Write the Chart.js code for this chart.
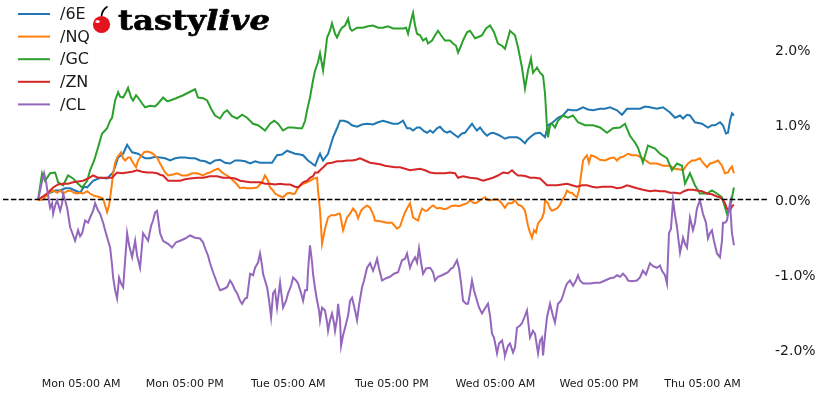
<!DOCTYPE html>
<html>
<head>
<meta charset="utf-8">
<script src="https://cdn.jsdelivr.net/npm/chart.js@4"></script>
<style>
  html, body { margin: 0; padding: 0; background: #fff; }
  #wrap { position: relative; width: 821px; height: 397px; overflow: hidden; }
  #logo { position: absolute; left: 0; top: 0; }
</style>
</head>
<body>
<div id="wrap">
  <canvas id="c" width="821" height="397"></canvas>
  <svg id="logo" width="300" height="45" viewBox="0 0 300 45">
    <path d="M101.5 17 C101.5 12 103.5 9 107.5 6.5" stroke="#000" stroke-width="1.6" fill="none"/>
    <circle cx="101.5" cy="24.5" r="8.6" fill="#e3141d"/>
    <ellipse cx="97.6" cy="21.4" rx="2.2" ry="1.5" fill="#fff" opacity="0.9"/>
    <text x="118" y="30" font-family="DejaVu Serif, serif" font-weight="bold" font-size="27" fill="#000" stroke="#000" stroke-width="0.6" textLength="152" lengthAdjust="spacingAndGlyphs">tasty<tspan font-style="italic">live</tspan></text>
  </svg>
</div>
<script>
// X axis: hours relative to Mon 05:00 AM
const tickHours = [0, 12, 24, 36, 48, 60, 72];
const tickLabels = ["Mon 05:00 AM", "Mon 05:00 PM", "Tue 05:00 AM", "Tue 05:00 PM", "Wed 05:00 AM", "Wed 05:00 PM", "Thu 05:00 AM"];
const yTicks = [-2, -1, 0, 1, 2];

const seriesNames = ["/6E", "/NQ", "/GC", "/ZN", "/CL"];
const seriesColors = ["#1f77b4", "#ff7f0e", "#2ca02c", "#d62728", "#9467bd"];

const e6Hours = [-4.98,-4.29,-3.59,-3.01,-2.43,-1.85,-1.27,-0.70,-0.12,0.35,0.70,1.39,2.20,3.01,3.71,4.29,4.87,5.33,5.91,6.60,7.41,7.99,8.57,9.15,9.73,10.31,10.89,11.47,12.05,12.63,13.20,13.78,14.36,14.94,15.52,16.10,16.68,17.26,17.84,18.42,19.00,19.58,20.16,20.73,21.43,22.12,22.70,23.28,23.86,24.33,24.79,25.37,25.72,26.29,26.76,27.11,27.45,27.68,28.03,28.61,29.19,29.65,30.00,30.46,30.93,31.39,31.97,32.55,33.13,33.82,34.40,34.98,35.56,36.14,36.72,37.30,37.76,38.11,38.46,38.92,39.27,39.73,40.08,40.43,40.77,41.24,41.58,42.05,42.39,42.74,43.09,43.67,44.13,44.48,44.94,45.29,45.64,45.87,46.22,46.68,47.03,47.38,47.72,48.19,48.53,49.11,49.57,50.04,50.50,50.85,51.43,51.66,52.01,52.59,53.17,53.75,54.09,54.67,55.25,55.83,56.41,56.87,57.45,58.15,58.73,59.31,60.12,60.70,61.28,62.09,62.67,63.25,63.94,64.75,65.33,65.91,66.72,67.42,68.23,68.81,69.39,69.74,70.20,70.54,71.12,71.93,72.63,73.09,73.44,74.02,74.37,74.71,74.95,75.18,75.41,75.64];
const e6Values = [0.00,0.05,0.09,0.12,0.12,0.15,0.15,0.12,0.09,0.17,0.16,0.25,0.29,0.28,0.36,0.56,0.61,0.73,0.63,0.61,0.55,0.55,0.57,0.56,0.55,0.52,0.55,0.56,0.56,0.55,0.55,0.52,0.51,0.48,0.52,0.53,0.49,0.48,0.52,0.52,0.51,0.48,0.51,0.49,0.49,0.49,0.59,0.60,0.65,0.63,0.61,0.60,0.59,0.52,0.48,0.45,0.55,0.61,0.52,0.61,0.83,0.95,1.05,1.05,1.03,0.99,0.97,1.00,1.01,1.00,1.03,1.05,1.03,1.01,1.01,1.05,0.95,0.95,0.92,0.96,0.96,0.91,0.89,0.92,0.89,0.95,0.97,0.91,0.89,0.91,0.88,0.83,0.88,0.89,0.96,1.01,0.95,0.92,0.96,0.89,0.85,0.88,0.89,0.87,0.85,0.81,0.83,0.83,0.83,0.81,0.75,0.79,0.83,0.88,0.89,0.83,0.99,1.03,1.09,1.12,1.20,1.19,1.19,1.23,1.20,1.19,1.21,1.21,1.23,1.19,1.13,1.21,1.21,1.21,1.24,1.23,1.21,1.23,1.16,1.09,1.12,1.08,1.13,1.12,1.03,1.01,0.96,0.99,0.99,1.03,0.99,0.88,0.89,1.05,1.15,1.12];

const nqHours = [-4.98,-4.40,-3.82,-3.24,-2.78,-2.43,-2.08,-1.62,-1.27,-0.81,-0.46,-0.12,0.23,0.70,1.04,1.51,1.85,2.20,2.55,2.78,3.01,3.24,3.48,3.71,3.94,4.17,4.63,4.87,5.10,5.44,5.68,6.02,6.37,6.60,6.83,7.30,7.65,7.99,8.34,8.80,9.15,9.73,10.08,10.54,11.12,11.70,12.28,12.86,13.44,14.13,14.60,14.94,15.41,15.87,16.45,16.91,17.26,17.84,18.42,18.77,19.23,19.81,20.39,20.96,21.31,21.66,21.89,22.24,22.47,22.93,23.40,23.86,24.21,24.56,24.79,25.14,25.72,26.18,26.52,26.99,27.34,27.45,27.68,27.92,28.26,28.61,28.96,29.42,29.77,30.00,30.35,30.81,31.16,31.51,31.86,32.09,32.43,32.66,33.13,33.48,33.82,34.05,34.63,35.45,36.02,36.60,36.95,37.18,37.53,37.76,38.11,38.46,39.04,39.27,39.50,39.85,40.08,40.43,40.77,41.24,41.58,42.05,42.39,42.86,43.32,43.79,44.25,44.71,45.06,45.52,45.87,46.33,46.80,47.14,47.38,47.84,48.30,48.65,49.11,49.46,49.92,50.27,50.62,51.08,51.43,51.78,52.01,52.24,52.47,52.70,52.94,53.40,53.63,53.75,54.09,54.33,54.56,55.14,55.49,55.72,56.06,56.30,56.64,56.87,57.22,57.45,57.68,57.92,58.15,58.38,58.61,58.84,59.08,59.54,60.12,60.70,61.28,61.74,62.09,62.44,62.79,63.36,63.82,64.40,65.09,65.91,66.72,67.42,68.23,68.81,69.39,69.74,70.31,70.78,71.12,71.70,72.05,72.51,72.86,73.21,73.79,74.25,74.60,74.95,75.18,75.41,75.64];
const nqValues = [-0.01,0.00,0.08,0.12,0.09,0.12,0.08,0.11,0.12,0.09,0.08,0.09,0.08,0.11,0.08,0.05,0.04,0.03,0.01,-0.08,-0.17,-0.08,0.12,0.35,0.49,0.56,0.63,0.55,0.52,0.56,0.56,0.49,0.43,0.52,0.56,0.63,0.64,0.63,0.61,0.56,0.48,0.36,0.32,0.33,0.35,0.32,0.32,0.35,0.35,0.32,0.35,0.36,0.39,0.41,0.35,0.32,0.29,0.23,0.15,0.16,0.15,0.15,0.16,0.23,0.32,0.25,0.16,0.12,0.08,0.05,0.03,0.08,0.09,0.07,0.08,0.16,0.21,0.23,0.25,0.28,0.29,0.12,-0.15,-0.59,-0.39,-0.24,-0.21,-0.21,-0.19,-0.19,-0.41,-0.24,-0.19,-0.12,-0.17,-0.25,-0.15,-0.12,-0.08,-0.11,-0.19,-0.28,-0.29,-0.31,-0.31,-0.39,-0.36,-0.28,-0.17,-0.12,-0.05,-0.24,-0.28,-0.19,-0.12,-0.15,-0.15,-0.11,-0.08,-0.12,-0.11,-0.13,-0.12,-0.09,-0.08,-0.09,-0.07,-0.05,-0.01,-0.05,-0.04,0.00,0.03,-0.01,-0.01,0.00,0.00,-0.04,-0.11,-0.05,-0.05,-0.01,-0.07,-0.09,-0.15,-0.35,-0.44,-0.51,-0.41,-0.44,-0.32,-0.25,-0.17,-0.01,-0.05,-0.12,-0.15,-0.12,-0.07,-0.01,0.05,0.12,0.09,0.09,0.05,0.03,0.12,0.32,0.52,0.56,0.59,0.49,0.59,0.57,0.53,0.52,0.55,0.56,0.52,0.56,0.57,0.61,0.59,0.59,0.55,0.48,0.48,0.45,0.45,0.41,0.40,0.39,0.48,0.52,0.52,0.55,0.49,0.43,0.48,0.49,0.52,0.45,0.35,0.36,0.41,0.44,0.35];

const gcHours = [-4.98,-4.52,-4.17,-3.59,-3.01,-2.66,-2.08,-1.51,-0.93,-0.35,0.12,0.70,1.04,1.51,1.85,2.20,2.43,2.78,3.01,3.36,3.59,3.94,4.29,4.52,4.87,5.21,5.44,5.79,6.02,6.37,6.60,7.07,7.41,7.99,8.57,8.92,9.50,9.96,10.31,11.00,11.82,12.51,13.20,13.55,14.13,14.60,15.06,15.52,16.10,16.56,16.91,17.49,18.07,18.65,19.23,19.92,20.50,21.31,21.89,22.36,22.82,23.40,23.98,24.56,25.14,25.60,25.95,26.18,26.52,26.87,27.11,27.45,27.68,28.03,28.26,28.50,28.84,29.07,29.42,29.65,30.00,30.23,30.58,30.93,31.16,31.39,31.97,32.66,33.24,33.82,34.40,34.98,35.56,36.14,36.72,37.30,37.65,37.88,38.23,38.46,38.69,38.92,39.27,39.62,39.97,40.19,40.66,41.01,41.35,41.70,42.16,42.74,43.09,43.44,43.67,44.02,44.25,44.71,45.06,45.41,45.64,46.10,46.45,46.92,47.38,47.84,48.30,48.77,49.11,49.46,49.69,50.27,50.62,51.08,51.43,51.78,52.12,52.36,52.82,53.17,53.52,53.75,53.98,54.09,54.33,54.56,54.90,55.25,55.83,56.41,56.99,57.57,58.38,59.31,60.12,60.93,61.63,62.44,63.01,63.59,64.17,64.52,65.09,65.68,66.49,67.07,67.88,68.46,69.04,69.62,69.97,70.54,71.12,71.70,72.51,73.09,73.67,74.25,74.83,75.18,75.64];
const gcValues = [0.00,0.35,0.25,0.35,0.36,0.23,0.19,0.32,0.28,0.21,0.16,0.25,0.39,0.52,0.65,0.79,0.88,0.92,0.95,1.05,1.09,1.32,1.43,1.37,1.36,1.43,1.49,1.36,1.32,1.39,1.36,1.28,1.23,1.25,1.24,1.28,1.36,1.31,1.32,1.35,1.39,1.43,1.47,1.36,1.35,1.32,1.21,1.12,1.08,1.16,1.19,1.11,1.08,1.13,1.09,1.01,0.99,0.92,1.01,1.05,1.01,0.92,0.96,0.96,0.95,0.95,1.05,1.19,1.36,1.59,1.72,1.83,1.95,1.72,1.92,2.16,2.25,2.35,2.21,2.16,2.25,2.29,2.32,2.41,2.28,2.25,2.29,2.29,2.31,2.32,2.29,2.29,2.31,2.28,2.28,2.28,2.29,2.21,2.39,2.49,2.32,2.21,2.19,2.12,2.15,2.08,2.12,2.19,2.25,2.19,2.12,2.12,2.08,2.05,1.96,2.05,2.12,2.23,2.25,2.19,2.15,2.17,2.19,2.28,2.32,2.23,2.08,2.05,2.01,2.15,2.25,2.19,2.03,1.76,1.48,1.72,1.88,1.69,1.76,1.69,1.65,1.41,0.96,0.83,0.99,1.01,0.96,1.05,1.12,1.09,1.12,1.03,0.99,0.99,0.96,0.89,0.95,0.96,1.01,0.85,0.76,0.69,0.49,0.72,0.68,0.61,0.55,0.39,0.48,0.45,0.21,0.35,0.19,0.08,0.08,0.12,0.08,0.03,-0.19,-0.11,0.16];

const znHours = [-4.98,-4.40,-3.94,-3.59,-3.24,-2.66,-2.08,-1.51,-0.93,-0.35,0.23,0.81,1.39,1.97,2.55,3.13,3.59,4.17,4.75,5.33,5.91,6.49,7.07,7.65,8.22,8.80,9.15,9.50,10.08,10.89,11.47,12.05,12.63,13.44,14.13,14.94,15.75,16.45,17.26,17.84,18.42,19.00,19.58,20.16,20.73,21.31,21.89,22.47,23.05,23.63,24.21,24.79,25.14,25.72,26.18,26.52,26.87,27.11,27.45,27.68,28.15,28.50,29.07,29.65,30.23,30.81,31.39,31.86,32.32,32.89,33.48,34.05,34.63,35.21,35.79,36.37,36.95,37.53,38.11,38.69,39.27,39.85,40.43,41.01,41.58,42.16,42.74,43.32,43.67,44.25,45.06,45.87,46.57,47.14,47.72,48.30,48.88,49.46,49.92,50.27,50.62,51.08,51.55,52.01,52.59,53.17,53.63,53.98,54.56,55.14,55.72,56.30,56.87,57.45,58.03,58.61,59.19,59.77,60.35,60.93,61.51,62.09,62.67,63.25,63.82,64.40,65.09,65.91,66.49,67.07,67.65,68.23,68.81,69.39,69.85,70.31,70.89,71.35,71.93,72.51,73.09,73.67,74.02,74.37,74.60,74.83,75.18,75.41,75.64];
const znValues = [0.00,0.04,0.08,0.12,0.16,0.20,0.21,0.21,0.23,0.24,0.25,0.28,0.32,0.29,0.29,0.29,0.29,0.36,0.35,0.36,0.37,0.39,0.37,0.36,0.36,0.35,0.33,0.32,0.25,0.25,0.25,0.27,0.28,0.29,0.29,0.31,0.31,0.29,0.29,0.28,0.25,0.24,0.23,0.23,0.23,0.21,0.21,0.20,0.21,0.20,0.20,0.17,0.16,0.23,0.25,0.29,0.31,0.36,0.36,0.39,0.44,0.48,0.49,0.51,0.51,0.52,0.52,0.53,0.55,0.52,0.49,0.48,0.47,0.45,0.44,0.43,0.43,0.41,0.39,0.40,0.41,0.39,0.36,0.35,0.35,0.35,0.36,0.35,0.29,0.31,0.29,0.28,0.25,0.27,0.29,0.32,0.36,0.35,0.39,0.35,0.32,0.32,0.31,0.29,0.29,0.28,0.23,0.19,0.19,0.19,0.20,0.21,0.19,0.17,0.19,0.19,0.17,0.16,0.17,0.17,0.17,0.15,0.16,0.19,0.17,0.15,0.13,0.11,0.12,0.11,0.11,0.09,0.09,0.08,0.11,0.13,0.13,0.12,0.11,0.08,0.07,0.04,0.03,-0.01,-0.05,-0.12,-0.15,-0.09,-0.07];

const clHours = [-4.98,-4.75,-4.52,-4.29,-4.05,-3.82,-3.59,-3.36,-3.24,-3.01,-2.78,-2.43,-2.20,-2.08,-1.85,-1.62,-1.27,-1.04,-0.70,-0.35,-0.12,0.12,0.46,0.81,1.04,1.39,1.62,1.97,2.20,2.55,2.78,3.13,3.36,3.59,3.71,3.94,4.17,4.40,4.63,4.87,5.10,5.33,5.56,5.91,6.26,6.49,6.83,7.18,7.53,7.76,8.11,8.34,8.57,8.80,9.04,9.15,9.50,9.73,10.08,10.54,11.00,11.47,12.05,12.63,13.20,13.78,14.13,14.36,14.71,14.94,15.29,15.52,15.87,16.10,16.56,16.91,17.26,17.49,17.84,18.07,18.42,18.65,19.00,19.23,19.58,19.92,20.16,20.50,20.73,20.96,21.08,21.31,21.55,21.78,22.01,22.24,22.47,22.70,23.05,23.40,23.75,23.98,24.33,24.56,24.90,25.14,25.49,25.72,25.95,26.18,26.29,26.52,26.76,26.87,27.11,27.34,27.57,27.68,27.92,28.26,28.50,28.61,28.84,29.07,29.31,29.42,29.65,29.77,30.00,30.12,30.35,30.58,30.93,31.16,31.39,31.74,31.97,32.20,32.55,32.78,33.13,33.48,33.82,34.05,34.29,34.52,34.87,35.33,35.79,36.25,36.72,37.18,37.53,37.76,38.11,38.34,38.69,38.92,39.15,39.39,39.62,39.97,40.43,40.77,41.01,41.35,41.82,42.16,42.51,42.86,43.09,43.55,43.79,44.02,44.25,44.60,44.83,45.06,45.29,45.52,45.87,46.10,46.45,46.80,47.14,47.38,47.61,47.84,48.19,48.42,48.77,49.00,49.11,49.46,49.69,50.04,50.27,50.50,50.85,51.08,51.43,51.66,52.01,52.36,52.59,52.94,53.17,53.40,53.52,53.75,53.98,54.33,54.67,54.90,55.25,55.60,55.83,56.06,56.30,56.64,56.99,57.34,57.57,57.80,58.15,58.61,58.96,59.54,60.12,60.70,61.28,61.74,62.09,62.44,62.79,63.13,63.36,63.82,64.40,64.75,65.09,65.45,65.91,66.26,66.72,67.07,67.30,67.65,67.88,68.11,68.34,68.58,68.81,69.04,69.39,69.74,69.97,70.20,70.54,70.89,71.12,71.35,71.70,72.05,72.40,72.63,72.86,73.09,73.32,73.67,74.02,74.25,74.37,74.60,74.83,75.18,75.41,75.64];
const clValues = [0.00,0.12,0.25,0.35,0.23,0.05,-0.11,-0.05,-0.19,-0.08,-0.01,-0.15,-0.05,0.08,-0.01,-0.11,-0.37,-0.44,-0.55,-0.41,-0.49,-0.45,-0.28,-0.31,-0.24,-0.15,-0.05,-0.15,-0.19,-0.31,-0.41,-0.55,-0.64,-0.88,-1.04,-1.21,-1.32,-1.04,-1.12,-1.17,-0.81,-0.45,-0.61,-0.77,-0.55,-0.75,-0.91,-0.45,-0.51,-0.55,-0.35,-0.28,-0.17,-0.15,-0.35,-0.45,-0.55,-0.57,-0.59,-0.64,-0.57,-0.55,-0.52,-0.48,-0.51,-0.52,-0.57,-0.65,-0.75,-0.85,-0.97,-1.04,-1.15,-1.21,-1.19,-1.17,-1.08,-1.12,-1.21,-1.25,-1.35,-1.39,-1.32,-1.31,-0.99,-1.01,-0.91,-0.84,-0.72,-0.88,-0.99,-1.08,-1.17,-1.35,-1.57,-1.25,-1.21,-1.44,-1.11,-1.44,-1.35,-1.25,-1.15,-1.04,-1.08,-1.12,-1.25,-1.35,-1.21,-1.21,-0.95,-0.61,-0.84,-0.99,-1.19,-1.35,-1.48,-1.61,-1.44,-1.48,-1.64,-1.75,-1.61,-1.52,-1.65,-1.75,-1.59,-1.39,-1.61,-1.95,-1.81,-1.71,-1.55,-1.35,-1.31,-1.48,-1.61,-1.41,-1.17,-1.08,-0.91,-0.85,-0.95,-0.88,-0.79,-0.92,-1.08,-1.05,-1.03,-0.99,-0.97,-0.81,-0.79,-0.72,-0.91,-0.84,-0.77,-0.84,-0.65,-0.84,-0.99,-0.92,-0.91,-0.97,-1.08,-1.03,-1.01,-0.99,-0.97,-0.92,-0.91,-0.81,-0.92,-1.11,-1.35,-1.39,-1.39,-1.25,-1.08,-1.21,-1.35,-1.44,-1.52,-1.45,-1.39,-1.55,-1.79,-1.84,-2.05,-1.92,-1.88,-2.01,-2.08,-1.95,-1.92,-2.04,-1.97,-1.71,-1.68,-1.65,-1.55,-1.48,-1.84,-1.75,-1.79,-2.05,-1.88,-1.84,-2.08,-1.81,-1.57,-1.39,-1.55,-1.64,-1.39,-1.35,-1.28,-1.19,-1.12,-1.08,-1.15,-1.08,-1.01,-1.08,-1.12,-1.12,-1.12,-1.11,-1.11,-1.08,-1.05,-1.04,-1.01,-1.03,-0.99,-1.03,-1.08,-1.09,-1.08,-1.04,-0.95,-1.00,-0.85,-0.89,-0.91,-0.88,-0.95,-1.01,-1.12,-0.45,-0.39,-0.01,-0.21,-0.37,-0.71,-0.51,-0.59,-0.64,-0.24,-0.41,-0.31,-0.12,-0.01,-0.19,-0.31,-0.52,-0.45,-0.41,-0.55,-0.72,-0.77,-0.55,-0.31,-0.31,-0.28,-0.05,-0.45,-0.61];

const seriesHours = [e6Hours, nqHours, gcHours, znHours, clHours];
const seriesValues = [e6Values, nqValues, gcValues, znValues, clValues];

const datasets = seriesNames.map((name, i) => ({
  label: name,
  data: seriesHours[i].map((h, k) => ({ x: h, y: seriesValues[i][k] })),
  borderColor: seriesColors[i],
  backgroundColor: seriesColors[i],
  borderWidth: 2,
  pointRadius: 0,
  tension: 0,
  fill: false,
  order: seriesNames.length - i
}));

const zeroLine = {
  id: 'zeroLine',
  afterDatasetsDraw(chart) {
    const { ctx, chartArea, scales } = chart;
    const y = scales.y.getPixelForValue(0);
    ctx.save();
    ctx.strokeStyle = '#000';
    ctx.lineWidth = 1.5;
    ctx.setLineDash([5.5, 2.4]);
    ctx.beginPath();
    ctx.moveTo(chartArea.left, y);
    ctx.lineTo(chartArea.right, y);
    ctx.stroke();
    ctx.restore();
  }
};

const inlineLegend = {
  id: 'inlineLegend',
  afterDraw(chart) {
    const { ctx } = chart;
    ctx.save();
    ctx.font = '16px "DejaVu Sans", sans-serif';
    ctx.textBaseline = 'middle';
    ctx.textAlign = 'left';
    chart.data.datasets.forEach((ds, i) => {
      const y = 14 + i * 22.6;
      ctx.strokeStyle = ds.borderColor;
      ctx.lineWidth = 2;
      ctx.beginPath();
      ctx.moveTo(18, y);
      ctx.lineTo(50, y);
      ctx.stroke();
      ctx.fillStyle = '#1a1a1a';
      ctx.fillText(ds.label, 60, y + 1);
    });
    ctx.restore();
  }
};

new Chart(document.getElementById('c'), {
  type: 'line',
  data: { datasets },
  options: {
    responsive: false,
    animation: false,
    devicePixelRatio: 1,
    layout: { padding: { left: 3, top: 0, right: 0, bottom: 0 } },
    plugins: { legend: { display: false }, tooltip: { enabled: false } },
    scales: {
      x: {
        type: 'linear',
        min: -9.05,
        max: 79.7,
        grid: { display: false, drawTicks: false },
        border: { display: false },
        afterBuildTicks(scale) { scale.ticks = tickHours.map(v => ({ value: v })); },
        afterFit(scale) { scale.height = 25; scale.paddingLeft = 0; scale.paddingRight = 0; },
        ticks: {
          autoSkip: false,
          maxRotation: 0,
          padding: 6,
          color: '#1a1a1a',
          font: { family: '"DejaVu Sans", sans-serif', size: 11 },
          callback(v) { const i = tickHours.indexOf(v); return i >= 0 ? tickLabels[i] : ''; }
        }
      },
      y: {
        position: 'right',
        min: -2.30,
        max: 2.66,
        grid: { display: false, drawTicks: false },
        border: { display: false },
        afterBuildTicks(scale) { scale.ticks = yTicks.map(v => ({ value: v })); },
        afterFit(scale) { scale.width = 52; scale.paddingTop = 0; scale.paddingBottom = 0; },
        ticks: {
          padding: 6,
          labelOffset: 2,
          color: '#1a1a1a',
          font: { family: '"DejaVu Sans", sans-serif', size: 14 },
          callback(v) { return v.toFixed(1) + '%'; }
        }
      }
    }
  },
  plugins: [zeroLine, inlineLegend]
});
</script>
</body>
</html>
